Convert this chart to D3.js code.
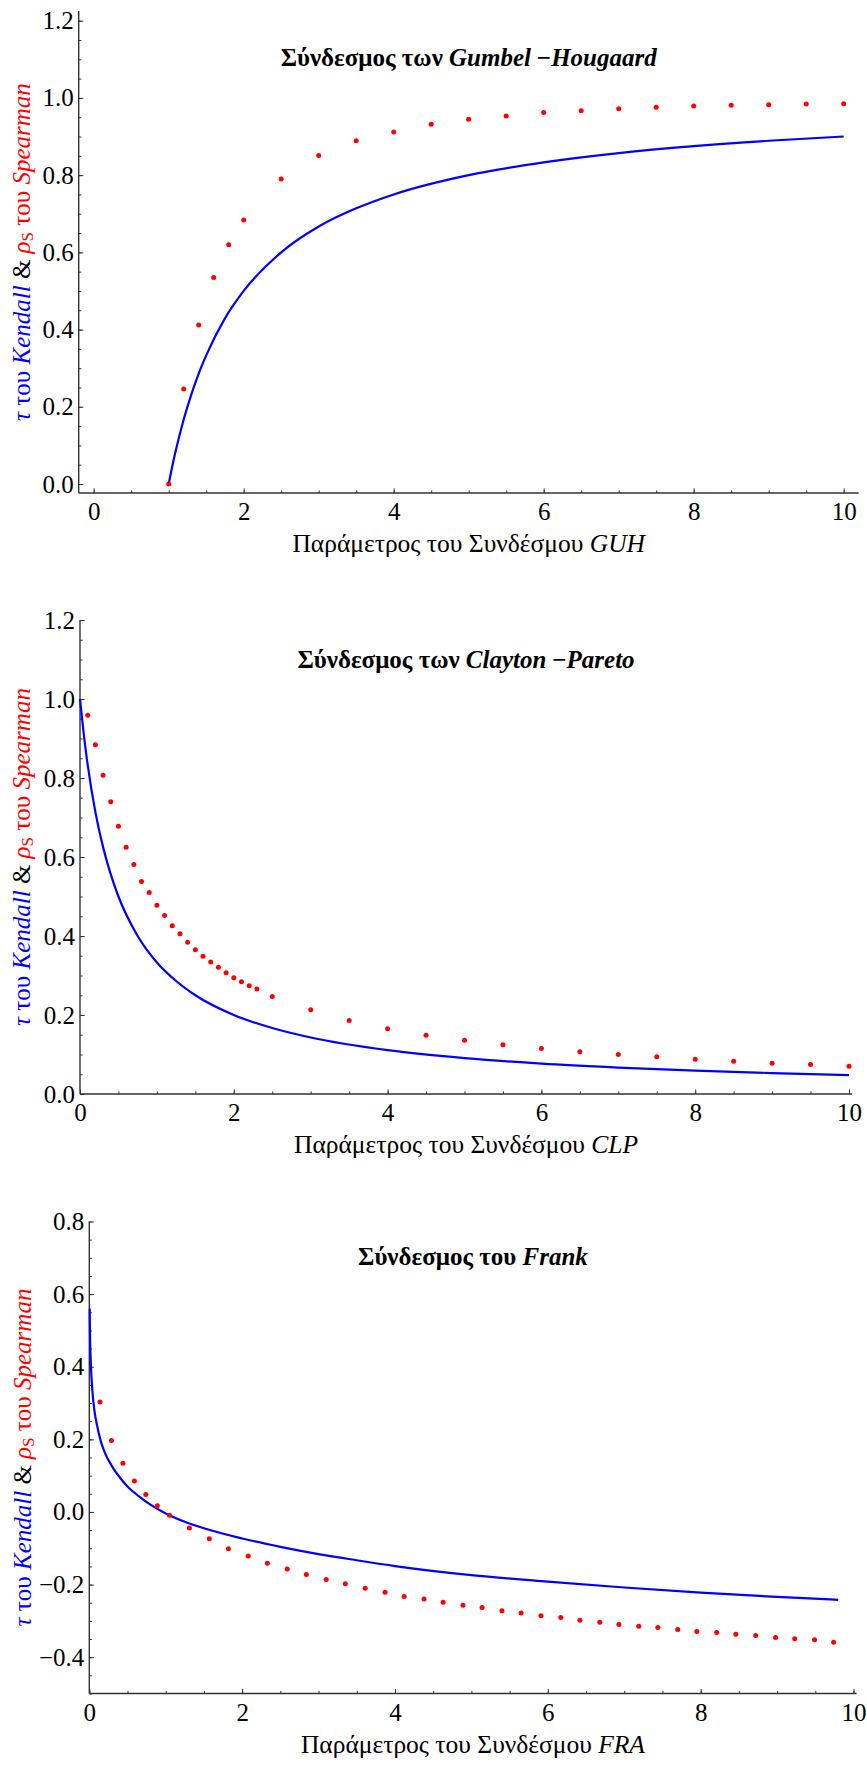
<!DOCTYPE html>
<html>
<head>
<meta charset="utf-8">
<script src="https://cdn.jsdelivr.net/npm/d3@7/dist/d3.min.js"></script>
<style>
  body { margin: 0; background: #fff; }
  svg { display: block; }
  text { font-family: "Liberation Serif", "Times New Roman", serif; }
</style>
</head>
<body>
<svg id="chart" width="867" height="1765"></svg>
<script>
// ---- Gumbel–Hougaard copula ----
const guhTauTheta = [1, 1.05, 1.1, 1.2, 1.3, 1.4, 1.5, 1.75, 2, 2.5, 3, 3.5, 4, 5, 6, 7, 8, 9, 10];
const guhTau      = [0, 0.048, 0.091, 0.167, 0.231, 0.286, 0.333, 0.429, 0.5, 0.6, 0.667, 0.714, 0.75, 0.8, 0.833, 0.857, 0.875, 0.889, 0.9];
const guhRhoTheta = [1, 1.2, 1.4, 1.6, 1.8, 2, 2.5, 3, 3.5, 4, 4.5, 5, 5.5, 6, 6.5, 7, 7.5, 8, 8.5, 9, 9.5, 10];
const guhRho      = [0, 0.246, 0.412, 0.535, 0.62, 0.684, 0.79, 0.851, 0.889, 0.912, 0.932, 0.945, 0.953, 0.962, 0.967, 0.972, 0.976, 0.979, 0.981, 0.982, 0.984, 0.985];

// ---- Clayton–Pareto copula ----
const clpTauTheta = [0, 0.05, 0.1, 0.2, 0.3, 0.4, 0.5, 0.75, 1, 1.25, 1.5, 2, 2.5, 3, 4, 5, 6, 7, 8, 9, 10];
const clpTau      = [1, 0.909, 0.833, 0.714, 0.625, 0.556, 0.5, 0.4, 0.333, 0.286, 0.25, 0.2, 0.167, 0.143, 0.111, 0.091, 0.077, 0.067, 0.059, 0.053, 0.048];
const clpRhoTheta = [0.1, 0.2, 0.3, 0.4, 0.5, 0.6, 0.7, 0.8, 0.9, 1.0, 1.1, 1.2, 1.3, 1.4, 1.5, 1.6, 1.7, 1.8, 1.9, 2.0, 2.1, 2.2, 2.3,
                     2.5, 3, 3.5, 4, 4.5, 5, 5.5, 6, 6.5, 7, 7.5, 8, 8.5, 9, 9.5, 10];
const clpRho      = [0.959, 0.884, 0.807, 0.74, 0.678, 0.625, 0.581, 0.538, 0.51, 0.478, 0.452, 0.426, 0.406, 0.384, 0.365, 0.349, 0.334, 0.321, 0.307, 0.294, 0.284, 0.274, 0.266,
                     0.247, 0.213, 0.186, 0.165, 0.149, 0.136, 0.125, 0.115, 0.107, 0.1, 0.094, 0.088, 0.083, 0.078, 0.075, 0.07];

// ---- Frank copula ----
const fraTauTheta = [0.005, 0.01, 0.02, 0.04, 0.07, 0.1, 0.15, 0.2, 0.3, 0.4, 0.5, 0.65, 0.8, 1, 1.25, 1.5, 2, 2.5, 3, 3.5, 4, 5, 6, 7, 8, 9, 9.8];
const fraTau      = [0.56, 0.48, 0.41, 0.335, 0.275, 0.24, 0.195, 0.165, 0.125, 0.095, 0.07, 0.043, 0.02, -0.004, -0.027, -0.045, -0.073, -0.096, -0.116, -0.133, -0.149, -0.174, -0.192, -0.208, -0.222, -0.234, -0.242];
const fraRhoTheta = [0.14, 0.29, 0.44, 0.59, 0.74, 0.89, 1.05, 1.31, 1.57, 1.82, 2.08, 2.33, 2.59, 2.84, 3.1, 3.35, 3.61, 3.87, 4.12, 4.38, 4.63,
                     4.89, 5.14, 5.4, 5.65, 5.91, 6.17, 6.42, 6.68, 6.93, 7.19, 7.44, 7.7, 7.95, 8.21, 8.46, 8.72, 8.98, 9.23, 9.49, 9.74];
const fraRho      = [0.303, 0.197, 0.134, 0.085, 0.048, 0.017, -0.009, -0.044, -0.074, -0.101, -0.121, -0.141, -0.157, -0.172, -0.186, -0.198, -0.21, -0.221, -0.233, -0.24, -0.249,
                     -0.257, -0.263, -0.272, -0.278, -0.286, -0.291, -0.298, -0.304, -0.31, -0.315, -0.318, -0.324, -0.329, -0.332, -0.337, -0.34, -0.346, -0.349, -0.352, -0.359];

// tick labels
const xTickValues = [0, 2, 4, 6, 8, 10];
const yTicksUnit  = [0, 0.2, 0.4, 0.6, 0.8, 1.0, 1.2];
const yTicksFrank = [-0.4, -0.2, 0, 0.2, 0.4, 0.6, 0.8];

const BLUE = "#0000ff", RED = "#ff0000", AXIS = "#333";
const SERIF = '"Liberation Serif","Times New Roman",serif';
const svg = d3.select("#chart");

function minorTicks(lo, hi, step) {
  const out = [];
  const n = Math.round((hi - lo) / step);
  for (let i = 0; i <= n; i++) out.push(+(lo + i * step).toFixed(4));
  return out;
}

function drawPanel(p) {
  const g = svg.append("g");
  const x = d3.scaleLinear().domain([0, 10]).range(p.xRange);
  const y = d3.scaleLinear().domain(p.yDomain).range(p.yRange);

  const axX = x(p.crossX), axY = y(p.crossY);

  // x axis: minor then major ticks, pointing into the plot
  g.append("g").attr("transform", `translate(0,${axY})`)
    .call(d3.axisBottom(x).tickValues(minorTicks(0, 10, 0.5).filter(v => v <= p.xEnd))
      .tickSize(-2.6).tickSizeOuter(0).tickFormat(""))
    .call(s => s.select(".domain").remove());
  g.append("g").attr("transform", `translate(0,${axY})`)
    .call(d3.axisBottom(x).tickValues(xTickValues).tickSize(-4.6).tickSizeOuter(0).tickPadding(9.3).tickFormat(d3.format("d")))
    .attr("font-family", SERIF).attr("font-size", 25)
    .call(s => s.select(".domain").remove())
    .call(s => s.selectAll("text").attr("fill", "#000"));

  // y axis
  g.append("g").attr("transform", `translate(${axX},0)`)
    .call(d3.axisLeft(y).tickValues(minorTicks(p.yMinorLo, p.yMinorHi, 0.05))
      .tickSize(-2.6).tickSizeOuter(0).tickFormat(""))
    .call(s => s.select(".domain").remove());
  g.append("g").attr("transform", `translate(${axX},0)`)
    .call(d3.axisLeft(y).tickValues(p.yTicks).tickSize(-4.6).tickSizeOuter(0).tickPadding(5).tickFormat(d3.format(".1f")))
    .attr("font-family", SERIF).attr("font-size", 25)
    .call(s => s.select(".domain").remove())
    .call(s => s.selectAll("text").attr("fill", "#000"));

  g.selectAll(".tick line").attr("stroke", AXIS).attr("stroke-width", 1);

  // axis lines
  g.append("line").attr("x1", axX).attr("x2", x(p.xEnd)).attr("y1", axY).attr("y2", axY)
    .attr("stroke", AXIS).attr("stroke-width", 1.4);
  g.append("line").attr("x1", axX).attr("x2", axX).attr("y1", axY).attr("y2", y(p.yTop))
    .attr("stroke", AXIS).attr("stroke-width", 1.4);

  // Kendall's tau curve
  const tauPts = p.tauTheta.map((t, i) => [t, p.tau[i]]);
  g.append("path").datum(tauPts)
    .attr("fill", "none").attr("stroke", BLUE).attr("stroke-width", 2.2)
    .attr("d", d3.line().x(d => x(d[0])).y(d => y(d[1])).curve(d3.curveMonotoneX));

  // Spearman's rho points
  g.append("g").selectAll("circle")
    .data(p.rhoTheta.map((t, i) => [t, p.rho[i]]))
    .join("circle")
    .attr("cx", d => x(d[0])).attr("cy", d => y(d[1])).attr("r", 2.5).attr("fill", RED);

  const midX = (axX + x(p.xEnd)) / 2;

  // plot title
  const t = g.append("text").attr("x", midX).attr("y", p.titleY)
    .attr("text-anchor", "middle").attr("font-size", 25).attr("font-weight", "bold");
  t.append("tspan").text(p.titleLead);
  t.append("tspan").attr("font-style", "italic").text(p.titleName);

  // x axis title
  const xt = g.append("text").attr("x", midX).attr("y", p.xTitleY)
    .attr("text-anchor", "middle").attr("font-size", 25.5);
  xt.append("tspan").text("Παράμετρος του Συνδέσμου ");
  xt.append("tspan").attr("font-style", "italic").text(p.code);

  // y axis title
  const cy = (axY + y(p.yTop)) / 2;
  const yt = g.append("text").attr("transform", `translate(${p.yTitleX},${cy}) rotate(-90)`)
    .attr("text-anchor", "middle").attr("font-size", 25);
  yt.append("tspan").attr("fill", BLUE).attr("font-style", "italic").text("τ");
  yt.append("tspan").attr("fill", BLUE).text(" του ");
  yt.append("tspan").attr("fill", BLUE).attr("font-style", "italic").text("Kendall");
  yt.append("tspan").attr("fill", "#000").text(" & ");
  yt.append("tspan").attr("fill", RED).attr("font-style", "italic").text("ρ");
  yt.append("tspan").attr("fill", RED).attr("font-size", 17).attr("dy", 3).text("S");
  yt.append("tspan").attr("fill", RED).attr("dy", -3).text(" του ");
  yt.append("tspan").attr("fill", RED).attr("font-style", "italic").text("Spearman");
}

drawPanel({
  xRange: [93.7, 843.7], yDomain: [0, 1.2], yRange: [484, 20.7],
  crossX: -0.2, crossY: -0.0233, xEnd: 10.2, yTop: 1.225,
  yTicks: yTicksUnit, yMinorLo: 0, yMinorHi: 1.2,
  tauTheta: guhTauTheta, tau: guhTau, rhoTheta: guhRhoTheta, rho: guhRho,
  titleLead: "Σύνδεσμος των ", titleName: "Gumbel\u2009−Hougaard", titleY: 66,
  code: "GUH", xTitleY: 551.5, yTitleX: 30
});

drawPanel({
  xRange: [80, 849], yDomain: [0, 1.2], yRange: [1094, 620],
  crossX: 0, crossY: 0, xEnd: 10.04, yTop: 1.2,
  yTicks: yTicksUnit, yMinorLo: 0, yMinorHi: 1.2,
  tauTheta: clpTauTheta, tau: clpTau, rhoTheta: clpRhoTheta, rho: clpRho,
  titleLead: "Σύνδεσμος των ", titleName: "Clayton\u2009−Pareto", titleY: 668,
  code: "CLP", xTitleY: 1152.5, yTitleX: 30
});

drawPanel({
  xRange: [89.3, 853.5], yDomain: [-0.5, 0.8], yRange: [1693.5, 1221.5],
  crossX: 0, crossY: -0.5, xEnd: 10.04, yTop: 0.8,
  yTicks: yTicksFrank, yMinorLo: -0.5, yMinorHi: 0.8,
  tauTheta: fraTauTheta, tau: fraTau, rhoTheta: fraRhoTheta, rho: fraRho,
  titleLead: "Σύνδεσμος του ", titleName: "Frank", titleY: 1265,
  code: "FRA", xTitleY: 1752.5, yTitleX: 31
});
</script>
</body>
</html>
